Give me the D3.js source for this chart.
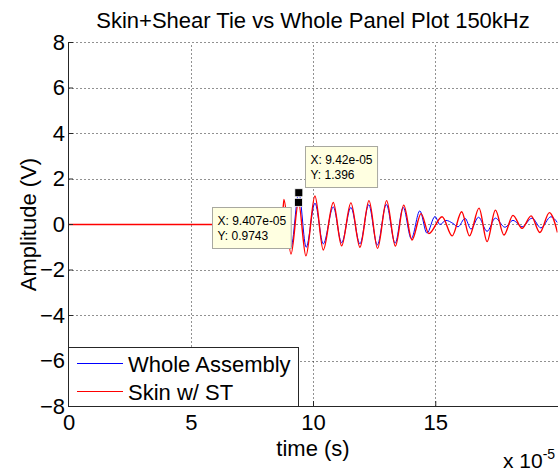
<!DOCTYPE html>
<html>
<head>
<meta charset="utf-8">
<script src="https://cdn.jsdelivr.net/npm/d3@7"></script>
<style>
  html, body { margin: 0; padding: 0; background: #fff; }
  svg { display: block; font-family: Arial, "Liberation Sans", sans-serif; }
</style>
</head>
<body>
<svg id="chart" width="560" height="472"></svg>
<script>
// ---- labels ----
const titleText = "Skin+Shear Tie vs Whole Panel Plot 150kHz";
const xLabelText = "time (s)";
const yLabelText = "Amplitude (V)";
const seriesNames = ["Whole Assembly", "Skin w/ ST"];

// ---- ticks ----
const xTicks = [0, 5e-5, 10e-5, 15e-5];
const xTickLabels = ["0", "5", "10", "15"];
const yTicks = [-8, -6, -4, -2, 0, 2, 4, 6, 8];
const xExponent = "-5";

// ---- Whole Assembly trace (time in s, amplitude in V) ----
const wholeTime = [0, 8.94e-5, 9.10e-5, 9.42e-5, 9.72e-5, 10.08e-5, 10.42e-5, 10.83e-5, 11.17e-5,
  11.55e-5, 11.92e-5, 12.28e-5, 12.63e-5, 13.00e-5, 13.36e-5, 13.69e-5, 14.02e-5, 14.37e-5,
  14.66e-5, 14.99e-5, 15.19e-5, 15.44e-5, 15.72e-5, 15.93e-5, 16.22e-5, 16.46e-5, 16.77e-5,
  17.12e-5, 17.46e-5, 17.85e-5, 18.18e-5, 18.55e-5, 18.96e-5, 19.32e-5, 19.73e-5, 20.0e-5];
const wholeAmp = [0, 0, -1.0, 1.396, -1.0, 0.94, -0.85, 0.77, -0.8,
  0.75, -0.85, 0.87, -0.9, 0.88, -0.82, 0.75, -0.62, 0.6,
  -0.38, 0.35, 0.0, 0.18, 0.05, -0.1, 0.27, -0.2, 0.32,
  -0.3, 0.28, -0.12, 0.18, -0.1, 0.28, -0.15, 0.34, 0.08];

// ---- Skin w/ ST trace (time in s, amplitude in V) ----
const skinTime = [0, 8.73e-5, 8.81e-5, 9.10e-5, 9.407e-5, 9.71e-5, 10.08e-5, 10.42e-5, 10.83e-5,
  11.17e-5, 11.55e-5, 11.92e-5, 12.29e-5, 12.64e-5, 13.01e-5, 13.37e-5, 13.71e-5, 14.05e-5,
  14.42e-5, 14.74e-5, 15.28e-5, 15.69e-5, 16.08e-5, 16.40e-5, 16.79e-5, 17.12e-5, 17.46e-5,
  17.81e-5, 18.18e-5, 18.55e-5, 18.92e-5, 19.28e-5, 19.67e-5, 20.0e-5];
const skinAmp = [0, 0, 1.1, -1.3, 0.9743, -1.38, 1.25, -1.12, 0.97,
  -0.94, 0.95, -1.0, 1.05, -1.05, 1.05, -0.95, 0.85, -0.68,
  0.48, -0.4, 0.34, -0.5, 0.56, -0.5, 0.72, -0.75, 0.63,
  -0.46, 0.4, -0.17, 0.38, -0.35, 0.52, -0.35];

// ---- data tips: [skin, whole] ----
const tipX = [9.407e-5, 9.42e-5];
const tipY = [0.9743, 1.396];
const tipXText = ["9.407e-05", "9.42e-05"];
const tipYText = ["0.9743", "1.396"];

const svg = d3.select("#chart");
const FONT = 22;

const x = d3.scaleLinear().domain([0, 2e-4]).range([68.5, 557.5]);
const y = d3.scaleLinear().domain([-8, 8]).range([406.5, 42.5]);

svg.append("defs").append("clipPath").attr("id", "plotClip")
  .append("rect").attr("x", x(0)).attr("y", y(8) - 2)
  .attr("width", x(2e-4) - x(0)).attr("height", y(-8) - y(8) + 4);

// dotted grid
const grid = svg.append("g").attr("stroke", "#222").attr("stroke-width", 1)
  .attr("stroke-dasharray", "1,3");
yTicks.filter(d => d !== -8).forEach(d => {
  grid.append("line").attr("x1", x(0)).attr("x2", x(2e-4))
    .attr("y1", Math.floor(y(d)) + 0.5).attr("y2", Math.floor(y(d)) + 0.5);
});
xTicks.filter(d => d !== 0).forEach(d => {
  grid.append("line").attr("y1", y(-8)).attr("y2", y(8))
    .attr("x1", Math.round(x(d)) + 0.5).attr("x2", Math.round(x(d)) + 0.5);
});

// traces (red drawn over blue)
const line = d3.line().x(d => x(d[0])).y(d => y(d[1])).curve(d3.curveMonotoneX);
const wholePts = wholeTime.map((t, i) => [t, wholeAmp[i]]);
const skinPts = skinTime.map((t, i) => [t, skinAmp[i]]);
const traces = svg.append("g").attr("clip-path", "url(#plotClip)").attr("fill", "none");
traces.append("path").datum(wholePts).attr("d", line)
  .attr("stroke", "#0000ff").attr("stroke-width", 1);
traces.append("path").datum(skinPts).attr("d", line)
  .attr("stroke", "#ff0000").attr("stroke-width", 1.4);

// axes
const yAxis = d3.axisLeft(y).tickValues(yTicks).tickSize(-5).tickSizeOuter(0)
  .tickPadding(3).tickFormat(d3.format("d"));
const xAxis = d3.axisBottom(x).tickValues(xTicks).tickSize(-5).tickSizeOuter(0)
  .tickPadding(8).tickFormat((d, i) => xTickLabels[i]);

const gy = svg.append("g").call(yAxis).attr("transform", `translate(${x(0) - 0.5},-0.5)`);
const gx = svg.append("g").call(xAxis);
[gx, gy].forEach(g => {
  g.attr("font-family", null).attr("font-size", FONT);
  g.selectAll("path, line").attr("stroke", "#262626");
  g.selectAll("text").attr("fill", "#000");
});
gx.attr("transform", `translate(0,${y(-8) - 0.5})`);

// legend
const lg = svg.append("g");
lg.append("rect").attr("x", 68.5).attr("y", 347.5).attr("width", 230).attr("height", 59)
  .attr("fill", "#fff").attr("stroke", "#262626");
const legColors = ["#0000ff", "#ff0000"];
const legY = [363.5, 391.5];
seriesNames.forEach((name, i) => {
  lg.append("line").attr("x1", 77).attr("x2", 123).attr("y1", legY[i]).attr("y2", legY[i])
    .attr("stroke", legColors[i]).attr("stroke-width", 1);
  lg.append("text").attr("x", 128).attr("y", legY[i] + 8).attr("font-size", FONT)
    .text(name);
});

// data tips
const tipG = svg.append("g");
tipX.forEach((tx, i) => {
  const px = x(tx), py = y(tipY[i]);
  const g = tipG.append("g");
  const t1 = g.append("text").attr("font-size", 12).text("X: " + tipXText[i]);
  const t2 = g.append("text").attr("font-size", 12).text("Y: " + tipYText[i]);
  const w = Math.max(t1.node().getComputedTextLength(), t2.node().getComputedTextLength()) + 10;
  const h = 41;
  let bx, by;
  if (i === 0) { bx = px - 7.5 - w; by = py + 5; }
  else { bx = px + 6.5; by = py - 5.6 - h; }
  bx = Math.round(bx) + 0.5; by = Math.round(by) + 0.5;
  g.insert("rect", "text").attr("x", bx).attr("y", by).attr("width", w).attr("height", h)
    .attr("fill", "#ffffe1").attr("stroke", "#a8a8a0");
  t1.attr("x", bx + 5).attr("y", by + 17);
  t2.attr("x", bx + 5).attr("y", by + 32);
});
tipX.forEach((tx, i) => {
  tipG.append("rect").attr("x", x(tx) - 4).attr("y", y(tipY[i]) - 4)
    .attr("width", 8).attr("height", 8).attr("fill", "#000").attr("stroke", "#fff")
    .attr("stroke-width", 0.8);
});

// title and axis labels
svg.append("text").attr("x", 313).attr("y", 28).attr("text-anchor", "middle")
  .attr("font-size", FONT).text(titleText);
svg.append("text").attr("x", 313).attr("y", 456).attr("text-anchor", "middle")
  .attr("font-size", FONT).text(xLabelText);
svg.append("text").attr("transform", "translate(36,224.5) rotate(-90)")
  .attr("text-anchor", "middle").attr("font-size", FONT).text(yLabelText);
const ex = svg.append("text").attr("x", 503).attr("y", 468).attr("font-size", 21);
ex.append("tspan").text("x 10");
ex.append("tspan").attr("font-size", 14).attr("dy", -9).text(xExponent);
</script>
</body>
</html>
